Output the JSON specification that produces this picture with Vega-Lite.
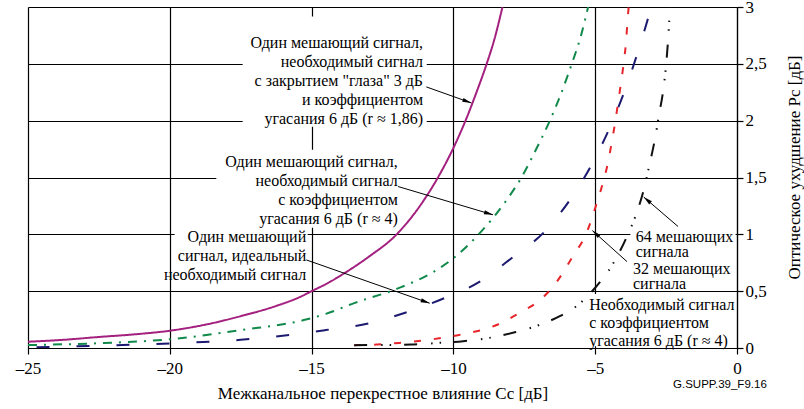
{
  "$schema": "https://vega.github.io/schema/vega-lite/v6.json",
  "autosize": "none",
  "width": 709,
  "height": 341,
  "padding": {"left": 28, "top": 7, "right": 67, "bottom": 61},
  "background": "white",
  "config": {"view": {"stroke": null}},
  "datasets": {
    "curves": [
      {"s": "a", "x": -25, "y": 0.055}, {"s": "a", "x": -23.75, "y": 0.072}, {"s": "a", "x": -22.5, "y": 0.097}, {"s": "a", "x": -21.25, "y": 0.12}, {"s": "a", "x": -20, "y": 0.152}, {"s": "a", "x": -18.75, "y": 0.205}, {"s": "a", "x": -17.5, "y": 0.28}, {"s": "a", "x": -16.25, "y": 0.37}, {"s": "a", "x": -15.4, "y": 0.45}, {"s": "a", "x": -15, "y": 0.5}, {"s": "a", "x": -14.4, "y": 0.575}, {"s": "a", "x": -13.8, "y": 0.665}, {"s": "a", "x": -13, "y": 0.8}, {"s": "a", "x": -12, "y": 1.0}, {"s": "a", "x": -11.07, "y": 1.29}, {"s": "a", "x": -10.5, "y": 1.52}, {"s": "a", "x": -10, "y": 1.76}, {"s": "a", "x": -9.54, "y": 2.02}, {"s": "a", "x": -9.2, "y": 2.24}, {"s": "a", "x": -8.84, "y": 2.49}, {"s": "a", "x": -8.55, "y": 2.72}, {"s": "a", "x": -8.27, "y": 3.0},
      {"s": "b", "x": -25, "y": 0.026}, {"s": "b", "x": -22.5, "y": 0.042}, {"s": "b", "x": -20, "y": 0.077}, {"s": "b", "x": -17.5, "y": 0.157}, {"s": "b", "x": -15.2, "y": 0.25}, {"s": "b", "x": -14.5, "y": 0.3}, {"s": "b", "x": -13.5, "y": 0.395}, {"s": "b", "x": -12, "y": 0.52}, {"s": "b", "x": -10.7, "y": 0.67}, {"s": "b", "x": -10, "y": 0.79}, {"s": "b", "x": -9, "y": 1.03}, {"s": "b", "x": -8.55, "y": 1.16}, {"s": "b", "x": -8.13, "y": 1.3}, {"s": "b", "x": -7.6, "y": 1.5}, {"s": "b", "x": -7.1, "y": 1.74}, {"s": "b", "x": -6.6, "y": 2.0}, {"s": "b", "x": -6.2, "y": 2.24}, {"s": "b", "x": -5.84, "y": 2.49}, {"s": "b", "x": -5.5, "y": 2.75}, {"s": "b", "x": -5.25, "y": 3.0},
      {"s": "c", "x": -24.7, "y": 0.006}, {"s": "c", "x": -22.5, "y": 0.02}, {"s": "c", "x": -20, "y": 0.04}, {"s": "c", "x": -17.5, "y": 0.072}, {"s": "c", "x": -15, "y": 0.14}, {"s": "c", "x": -14.5, "y": 0.158}, {"s": "c", "x": -13, "y": 0.215}, {"s": "c", "x": -11.7, "y": 0.31}, {"s": "c", "x": -10.5, "y": 0.42}, {"s": "c", "x": -9.1, "y": 0.58}, {"s": "c", "x": -7.9, "y": 0.8}, {"s": "c", "x": -6.8, "y": 1.02}, {"s": "c", "x": -5.9, "y": 1.3}, {"s": "c", "x": -5.13, "y": 1.61}, {"s": "c", "x": -4.45, "y": 1.96}, {"s": "c", "x": -3.95, "y": 2.27}, {"s": "c", "x": -3.5, "y": 2.6}, {"s": "c", "x": -3.02, "y": 3.0},
      {"s": "d", "x": -13.5, "y": 0.025}, {"s": "d", "x": -12.7, "y": 0.03}, {"s": "d", "x": -11.9, "y": 0.045}, {"s": "d", "x": -10.5, "y": 0.085}, {"s": "d", "x": -9.8, "y": 0.115}, {"s": "d", "x": -8.5, "y": 0.2}, {"s": "d", "x": -7.66, "y": 0.31}, {"s": "d", "x": -6.96, "y": 0.42}, {"s": "d", "x": -6.5, "y": 0.535}, {"s": "d", "x": -5.78, "y": 0.81}, {"s": "d", "x": -5.31, "y": 1.01}, {"s": "d", "x": -4.95, "y": 1.27}, {"s": "d", "x": -4.72, "y": 1.46}, {"s": "d", "x": -4.55, "y": 1.63}, {"s": "d", "x": -4.43, "y": 1.79}, {"s": "d", "x": -4.3, "y": 1.98}, {"s": "d", "x": -4.18, "y": 2.18}, {"s": "d", "x": -4.0, "y": 2.5}, {"s": "d", "x": -3.91, "y": 2.7}, {"s": "d", "x": -3.86, "y": 2.88}, {"s": "d", "x": -3.82, "y": 3.0},
      {"s": "e", "x": -13.5, "y": 0.025}, {"s": "e", "x": -11.5, "y": 0.03}, {"s": "e", "x": -10.5, "y": 0.045}, {"s": "e", "x": -9.66, "y": 0.06}, {"s": "e", "x": -8.6, "y": 0.095}, {"s": "e", "x": -7.8, "y": 0.14}, {"s": "e", "x": -7.0, "y": 0.2}, {"s": "e", "x": -6.25, "y": 0.28}, {"s": "e", "x": -5.55, "y": 0.39}, {"s": "e", "x": -5.0, "y": 0.53}, {"s": "e", "x": -4.4, "y": 0.73}, {"s": "e", "x": -3.9, "y": 0.97}, {"s": "e", "x": -3.55, "y": 1.18}, {"s": "e", "x": -3.3, "y": 1.38}, {"s": "e", "x": -3.08, "y": 1.62}, {"s": "e", "x": -2.9, "y": 1.83}, {"s": "e", "x": -2.75, "y": 2.05}, {"s": "e", "x": -2.6, "y": 2.27}, {"s": "e", "x": -2.5, "y": 2.49}, {"s": "e", "x": -2.43, "y": 2.71}, {"s": "e", "x": -2.36, "y": 3.0}
    ],
    "boxes": [
      {"x": -17.43, "x2": -10.94, "y": 2.916, "y2": 1.947},
      {"x": -18.36, "x2": -11.94, "y": 1.744, "y2": 1.057},
      {"x": -19.83, "x2": -15.14, "y": 1.048, "y2": 0.581},
      {"x": -3.76, "x2": -0.05, "y": 1.057, "y2": 0.529},
      {"x": -5.4, "x2": -0.05, "y": 0.476, "y2": 0.015}
    ],
    "arrows": [
      {"x": -9.367, "y": 2.156, "x2": -10.954, "y2": 2.297, "angle": 109.6},
      {"x": -8.605, "y": 1.172, "x2": -11.956, "y2": 1.421, "angle": 106.6},
      {"x": -10.838, "y": 0.394, "x2": -15.187, "y2": 0.775, "angle": 109.4},
      {"x": -3.289, "y": 1.328, "x2": -2.079, "y2": 1.069, "angle": 310.6},
      {"x": -5.099, "y": 1.033, "x2": -3.879, "y2": 0.76, "angle": 311.9}
    ],
    "labelsRight": [
      {"t": "Один мешающий сигнал,\nнеобходимый сигнал\nс закрытием \"глаза\" 3 дБ\nи коэффициентом\nугасания 6 дБ (r ≈ 1,86)", "x": -11.07, "y": 2.751},
      {"t": "Один мешающий сигнал,\nнеобходимый сигнал\nс коэффициентом\nугасания 6 дБ (r ≈ 4)", "x": -11.96, "y": 1.707},
      {"t": "Один мешающий\nсигнал, идеальный\nнеобходимый сигнал", "x": -15.19, "y": 1.047}
    ],
    "labelsPair": [
      {"t": "64 мешающих\nсигнала", "x": -3.571, "y": 1.044},
      {"t": "32 мешающих\nсигнала", "x": -3.667, "y": 0.768}
    ],
    "labelBottom": [
      {"t": "Необходимый сигнал\nс коэффициентом\nугасания 6 дБ (r ≈ 4)", "x": -5.212, "y": 0.445}
    ],
    "mark": [
      {"t": "G.SUPP.39_F9.16", "x": 1.05, "y": -0.326}
    ]
  },
  "encoding": {
    "x": {
      "field": "x", "type": "quantitative",
      "scale": {"domain": [-25, 0], "nice": false, "zero": false},
      "axis": {
        "values": [-25, -20, -15, -10, -5, 0],
        "labelExpr": "datum.value < 0 ? '–' + toString(-datum.value) : toString(datum.value)",
        "labelFlush": false,
        "grid": true, "gridColor": "black", "gridWidth": 1.2, "gridOpacity": 1,
        "domainColor": "black", "domainWidth": 1.2,
        "tickColor": "black", "tickSize": 6, "tickWidth": 1.2,
        "labelFont": "Liberation Serif", "labelFontSize": 17, "labelColor": "black", "labelPadding": 6,
        "title": "Межканальное перекрестное влияние Cc [дБ]",
        "titleFont": "Liberation Serif", "titleFontSize": 17, "titleFontWeight": "normal", "titleColor": "black", "titlePadding": 9
      }
    },
    "y": {
      "field": "y", "type": "quantitative",
      "scale": {"domain": [0, 3], "nice": false, "zero": false},
      "axis": {
        "orient": "right",
        "values": [0, 0.5, 1, 1.5, 2, 2.5, 3],
        "labelExpr": "replace(toString(datum.value), '.', ',')",
        "labelFlush": false,
        "grid": true, "gridColor": "black", "gridWidth": 1.2, "gridOpacity": 1,
        "domainColor": "black", "domainWidth": 1.2,
        "tickColor": "black", "tickSize": 6, "tickWidth": 1.2,
        "labelFont": "Liberation Serif", "labelFontSize": 17, "labelColor": "black", "labelPadding": 2,
        "title": "Оптическое ухудшение Pc [дБ]",
        "titleAngle": 270, "titleBaseline": "top", "titleY": 160,
        "titleFont": "Liberation Serif", "titleFontSize": 17, "titleFontWeight": "normal", "titleColor": "black", "titlePadding": 20
      }
    }
  },
  "layer": [
    {
      "data": {"name": "boxes"},
      "mark": {"type": "rect", "fill": "white", "strokeWidth": 0},
      "encoding": {"x2": {"field": "x2"}, "y2": {"field": "y2"}}
    },
    {
      "data": {"name": "curves"},
      "mark": {"type": "line", "strokeWidth": 2, "interpolate": "monotone", "strokeCap": "butt", "clip": true},
      "encoding": {
        "color": {"field": "s", "type": "nominal", "legend": null,
          "scale": {"domain": ["a", "b", "c", "d", "e"], "range": ["#a3207f", "#10894a", "#1c1a70", "#e6262b", "#111111"]}},
        "strokeDash": {"field": "s", "type": "nominal", "legend": null,
          "scale": {"domain": ["a", "b", "c", "d", "e"], "range": [[1, 0], [9, 7, 2, 7], [13, 27], [7, 13], [13, 14, 1.5, 7, 1.5, 13]]}}
      }
    },
    {
      "data": {"name": "arrows"},
      "mark": {"type": "rule", "color": "black", "strokeWidth": 1},
      "encoding": {"x2": {"field": "x2"}, "y2": {"field": "y2"}}
    },
    {
      "data": {"name": "arrows"},
      "mark": {"type": "point", "filled": true, "color": "black", "opacity": 1, "size": 56, "shape": "M0,0L0.55,2.4L-0.55,2.4Z"},
      "encoding": {"angle": {"field": "angle", "type": "quantitative", "scale": null}}
    },
    {
      "data": {"name": "labelsRight"},
      "mark": {"type": "text", "align": "right", "baseline": "top", "lineBreak": "\n", "lineHeight": 19, "font": "Liberation Serif", "fontSize": 16, "color": "black"},
      "encoding": {"text": {"field": "t"}}
    },
    {
      "data": {"name": "labelsPair"},
      "mark": {"type": "text", "align": "left", "baseline": "top", "lineBreak": "\n", "lineHeight": 15, "font": "Liberation Serif", "fontSize": 16, "color": "black"},
      "encoding": {"text": {"field": "t"}}
    },
    {
      "data": {"name": "labelBottom"},
      "mark": {"type": "text", "align": "left", "baseline": "top", "lineBreak": "\n", "lineHeight": 18, "font": "Liberation Serif", "fontSize": 16, "color": "black"},
      "encoding": {"text": {"field": "t"}}
    },
    {
      "data": {"name": "mark"},
      "mark": {"type": "text", "align": "right", "baseline": "middle", "font": "Liberation Sans", "fontSize": 11.5, "color": "black"},
      "encoding": {"text": {"field": "t"}}
    }
  ]
}
